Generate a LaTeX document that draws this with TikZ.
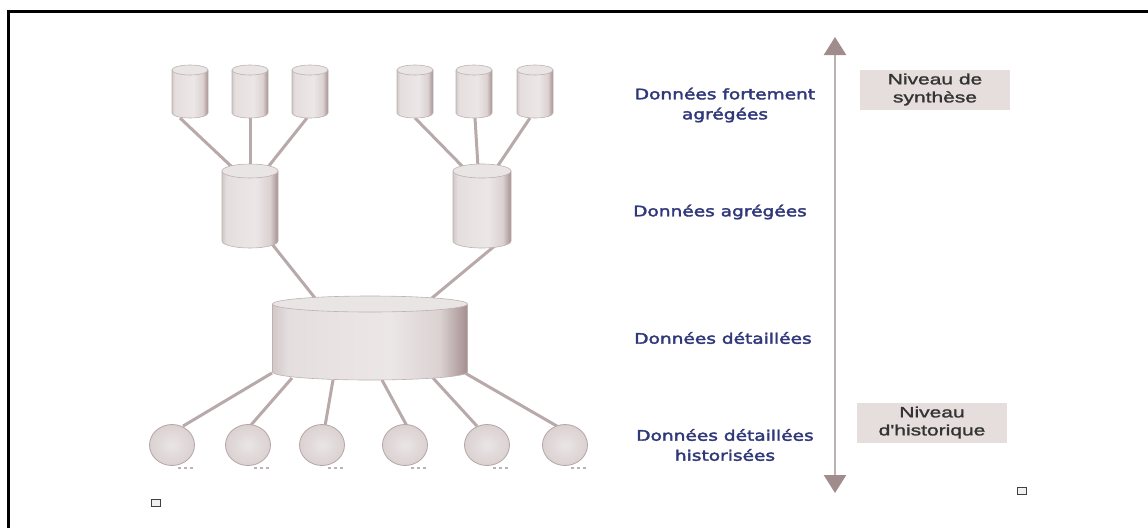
\documentclass[tikz,border=0pt]{standalone}
\usepackage{fontspec}
\usetikzlibrary{arrows.meta,shapes.geometric}
\newfontfamily\labfont[FakeStretch=1.28,FakeBold=2.5]{DejaVu Sans}
\newfontfamily\boxfont[FakeStretch=1.4,FakeBold=1.5]{Liberation Sans}
\definecolor{cA}{HTML}{D2C8C8}
\definecolor{cB}{HTML}{E5DEDE}
\definecolor{cC}{HTML}{ECE7E7}
\definecolor{cD}{HTML}{DBD1D1}
\definecolor{cE}{HTML}{A48E8E}
\definecolor{topc}{HTML}{EAE5E5}
\definecolor{edgec}{HTML}{BEB1B1}
\definecolor{connc}{HTML}{B8AAAA}
\definecolor{labc}{HTML}{30387A}
\definecolor{boxc}{HTML}{E6DEDD}
\definecolor{arrc}{HTML}{BBAFB0}
\definecolor{tipc}{HTML}{A08B8D}
\pgfdeclarehorizontalshading{cylsh}{100bp}{color(0bp)=(cA); color(25bp)=(cA); color(29bp)=(cB); color(55bp)=(cC); color(68bp)=(cD); color(75bp)=(cE); color(100bp)=(cE)}
\pgfdeclarelayer{bg}
\pgfsetlayers{bg,main}
% name, cx, ytop, ybot, halfwidth, ry
\newcommand\mycyl[6]{%
  \path[shading=cylsh] (#2-#5,#3) -- (#2-#5,#4) arc[start angle=180,end angle=360,x radius=#5pt,y radius=#6pt] -- (#2+#5,#3) -- cycle;
  \draw[edgec,line width=0.6pt] (#2-#5,#3) -- (#2-#5,#4) arc[start angle=180,end angle=360,x radius=#5pt,y radius=#6pt] -- (#2+#5,#3);
  \path[fill=topc,draw=edgec,line width=0.6pt] (#2,#3) ellipse[x radius=#5pt,y radius=#6pt];
  \node[inner sep=0pt,outer sep=0pt,minimum width={2*#5*1pt},minimum height={(#4-#3+2*#6)*1pt}] (#1) at (#2,{(#3+#4)/2}) {};
}
\tikzset{
  conn/.style={connc,line width=3pt},
  sphere/.style={ellipse,minimum width=45pt,minimum height=41pt,inner sep=0pt,inner color=topc,outer color=cD,draw=cE!80,line width=0.8pt},
  lab/.style={text=labc,font=\labfont\fontsize{14.5}{20}\selectfont,align=center,inner sep=0pt},
  levelbox/.style={fill=boxc,font=\boxfont\fontsize{15}{18}\selectfont,text=black!80,align=center,minimum width=150pt,minimum height=40pt,inner sep=0pt},
  shadowmark/.style={edgec,line width=1.2pt,dash pattern=on 3pt off 3pt},
  tinybox/.style={draw=black!75,fill=black!6,line width=0.9pt,minimum width=9pt,minimum height=7pt,inner sep=0pt},
}
\begin{document}
\begin{tikzpicture}[x=1pt,y=-1pt]
\useasboundingbox (0,0) rectangle (1148,528);
\draw[line width=3pt,black] (1148,11.5) -- (8,11.5) -- (8,528);
% small cylinders
\mycyl{s1}{190}{70}{113}{18}{5}
\mycyl{s2}{250}{70}{113}{18}{5}
\mycyl{s3}{310}{70}{113}{18}{5}
\mycyl{s4}{415}{70}{113}{18}{5}
\mycyl{s5}{474}{70}{113}{18}{5}
\mycyl{s6}{535}{70}{113}{18}{5}
% aggregated cylinders
\mycyl{m1}{250}{171}{241}{28}{7}
\mycyl{m2}{482}{171}{241}{29}{7}
% detailed cylinder
\mycyl{B}{370}{304}{372}{97.5}{8}
% spheres
\node[sphere] (p1) at (172,445) {};
\node[sphere] (p2) at (248,445) {};
\node[sphere] (p3) at (322,445) {};
\node[sphere] (p4) at (405,445) {};
\node[sphere] (p5) at (487,445) {};
\node[sphere] (p6) at (565,445) {};
\foreach \p in {p1,p2,p3,p4,p5,p6}
  \draw[shadowmark] ([xshift=6pt,yshift=-2pt]\p.south) -- ([xshift=22pt,yshift=-2pt]\p.south);
\begin{pgfonlayer}{bg}
  \draw[conn] ([xshift=-10pt]s1.south) -- ([xshift=-18pt,yshift=-3pt]m1.north);
  \draw[conn] (s2.south) -- ([yshift=-3pt]m1.north);
  \draw[conn] ([xshift=-3pt]s3.south) -- ([xshift=18pt,yshift=-3pt]m1.north);
  \draw[conn] (s4.south) -- ([xshift=-19pt,yshift=-3pt]m2.north);
  \draw[conn] ([xshift=1pt]s5.south) -- ([xshift=-4pt,yshift=-3pt]m2.north);
  \draw[conn] ([xshift=-5pt]s6.south) -- ([xshift=15pt,yshift=-3pt]m2.north);
  \draw[conn] ([xshift=22pt,yshift=4pt]m1.south) -- ([xshift=-55pt,yshift=-2pt]B.north);
  \draw[conn] ([xshift=15pt,yshift=4pt]m2.south) -- ([xshift=62pt,yshift=-2pt]B.north);
  \draw[conn] ([xshift=-98pt,yshift=7pt]B.south) -- ([xshift=11pt,yshift=-2pt]p1.north);
  \draw[conn] ([xshift=-78pt,yshift=2pt]B.south) -- ([xshift=2pt,yshift=-2pt]p2.north);
  \draw[conn] ([xshift=-37pt]B.south) -- ([xshift=3pt,yshift=-2pt]p3.north);
  \draw[conn] ([xshift=12pt]B.south) -- ([xshift=2pt,yshift=-2pt]p4.north);
  \draw[conn] ([xshift=63pt,yshift=2pt]B.south) -- ([xshift=-10pt,yshift=-2pt]p5.north);
  \draw[conn] ([xshift=95pt,yshift=7pt]B.south) -- ([xshift=-8pt,yshift=-2pt]p6.north);
\end{pgfonlayer}
% level arrow
\coordinate (atop) at (835,37);
\coordinate (abot) at (835,493);
\draw[arrc,line width=2.5pt,{Triangle[width=22pt,length=18pt,fill=tipc,color=tipc]}-{Triangle[width=22pt,length=18pt,fill=tipc,color=tipc]}] (atop) -- (abot);
% labels
\node[lab] (l1) at (725,105) {Données fortement\\agrégées};
\node[lab] (l2) at (720,212) {Données agrégées};
\node[lab] (l3) at (723,338) {Données détaillées};
\node[lab] (l4) at (725,445) {Données détaillées\\historisées};
\node[levelbox] (b1) at (935,89.5) {Niveau de\\synthèse};
\node[levelbox] (b2) at (932,422.5) {Niveau\\d'historique};
\node[tinybox] (q1) at (155.5,502.5) {};
\node[tinybox] (q2) at (1022,490.5) {};
\end{tikzpicture}
\end{document}
